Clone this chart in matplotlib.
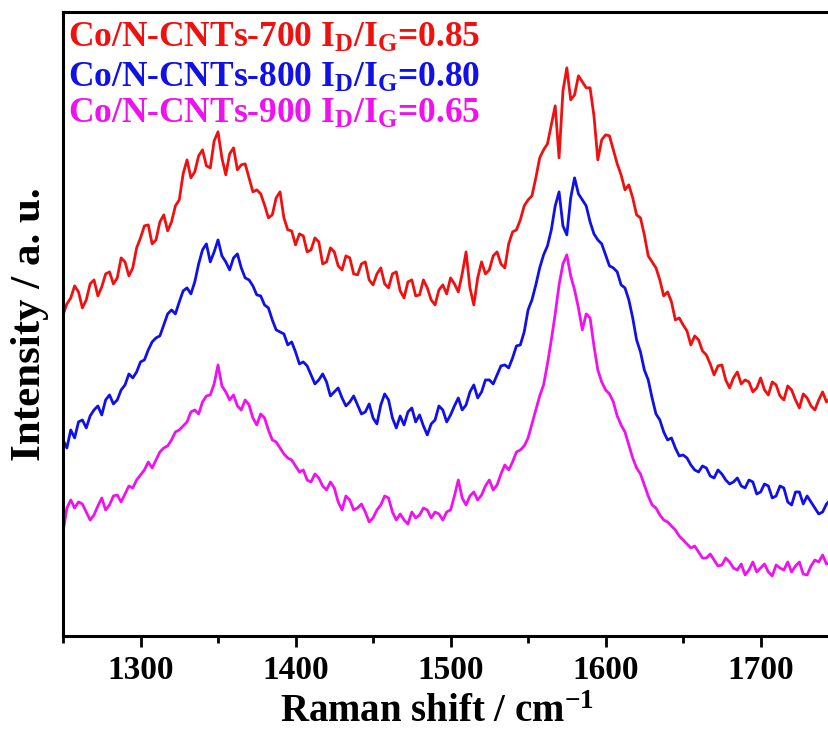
import matplotlib.pyplot as plt
from matplotlib.ticker import MultipleLocator

plt.rcParams['font.family'] = ['Liberation Serif', 'DejaVu Serif']
plt.rcParams['font.weight'] = 'bold'
plt.rcParams['mathtext.fontset'] = 'custom'
plt.rcParams['mathtext.rm'] = 'Liberation Serif:bold'
plt.rcParams['mathtext.it'] = 'Liberation Serif:bold'
plt.rcParams['mathtext.bf'] = 'Liberation Serif:bold'

# Intensities (a. u.) every 2.5 cm-1, curves already offset
co700 = [321, 332, 338, 350, 344, 328, 336, 352, 356, 340, 349, 362, 364, 352, 358, 378, 374, 360, 368, 388,
         398, 410, 411, 392, 396, 414, 421, 405, 414, 430, 436, 462, 476, 458, 464, 480, 486, 470, 468, 495,
         504, 478, 461, 482, 488, 466, 471, 472, 458, 444, 446, 442, 431, 418, 421, 438, 444, 418, 406, 405,
         391, 402, 400, 384, 386, 398, 394, 372, 374, 388, 384, 370, 366, 380, 378, 362, 361, 372, 374, 356,
         351, 362, 368, 352, 348, 362, 364, 345, 338, 354, 356, 340, 341, 356, 348, 336, 331, 346, 351, 342,
         358, 352, 344, 362, 384, 348, 331, 358, 374, 362, 366, 380, 384, 372, 368, 392, 404, 406, 416, 430,
         436, 440, 458, 478, 486, 492, 511, 530, 478, 545, 568, 536, 541, 560, 554, 548, 548, 520, 476, 496,
         501, 500, 486, 472, 461, 446, 451, 438, 421, 418, 401, 380, 374, 368, 356, 340, 344, 334, 316, 318,
         311, 305, 291, 300, 296, 285, 281, 272, 261, 270, 271, 256, 248, 258, 264, 252, 256, 254, 244, 248,
         258, 246, 241, 254, 251, 240, 236, 250, 246, 236, 228, 242, 238, 230, 226, 236, 244, 234, 238, 242]

co800 = [196, 188, 206, 198, 214, 216, 208, 220, 226, 230, 221, 236, 241, 232, 236, 246, 251, 262, 258, 264,
         274, 276, 286, 294, 298, 300, 311, 322, 326, 322, 334, 345, 348, 342, 354, 372, 386, 392, 374, 384,
         396, 380, 374, 366, 378, 382, 368, 358, 356, 350, 341, 340, 331, 328, 316, 306, 304, 302, 291, 294,
         284, 272, 274, 270, 261, 252, 256, 262, 254, 240, 244, 248, 238, 230, 234, 240, 231, 222, 224, 232,
         218, 212, 231, 242, 236, 218, 208, 220, 211, 224, 228, 214, 221, 210, 201, 212, 216, 230, 226, 214,
         221, 230, 238, 226, 231, 244, 251, 238, 244, 256, 256, 252, 261, 270, 271, 268, 278, 290, 291, 304,
         326, 336, 351, 368, 381, 390, 406, 430, 444, 410, 401, 438, 458, 442, 436, 430, 414, 402, 396, 392,
         381, 370, 368, 364, 351, 348, 336, 318, 296, 284, 266, 256, 238, 222, 216, 204, 196, 198, 188, 180,
         181, 178, 171, 166, 164, 170, 168, 160, 158, 166, 162, 156, 152, 154, 158, 150, 148, 156, 154, 142,
         144, 152, 150, 138, 140, 150, 148, 134, 131, 144, 144, 132, 140, 134, 128, 122, 124, 132, 136, 128]

co900 = [104, 128, 136, 128, 134, 132, 124, 116, 121, 130, 138, 126, 131, 140, 141, 134, 142, 150, 148, 156,
         161, 166, 174, 168, 176, 184, 188, 190, 196, 204, 206, 210, 214, 224, 226, 222, 234, 240, 241, 252,
         271, 250, 244, 236, 241, 230, 226, 236, 231, 218, 211, 222, 218, 206, 196, 194, 188, 182, 178, 176,
         170, 164, 166, 156, 154, 162, 158, 150, 146, 154, 148, 134, 126, 140, 136, 126, 128, 132, 124, 114,
         118, 126, 131, 140, 138, 124, 116, 122, 116, 112, 124, 118, 121, 128, 126, 118, 124, 122, 116, 124,
         126, 140, 156, 138, 131, 140, 144, 136, 141, 150, 156, 146, 151, 162, 171, 166, 174, 184, 186, 190,
         198, 212, 226, 240, 251, 272, 296, 322, 351, 372, 381, 360, 346, 328, 306, 322, 318, 290, 266, 254,
         246, 242, 234, 220, 211, 204, 191, 178, 168, 162, 151, 140, 131, 128, 121, 116, 114, 110, 106, 100,
         96, 92, 88, 90, 84, 78, 78, 82, 76, 70, 71, 78, 74, 68, 66, 72, 61, 66, 74, 64,
         68, 72, 64, 60, 71, 68, 66, 74, 64, 70, 74, 62, 61, 70, 76, 74, 81, 72, 74, 70]

# Raman shift axis, 1250 to 1747.5 cm-1
shift = [1250 + 2.5 * i for i in range(len(co700))]

labels = ['Co/N-CNTs-700', 'Co/N-CNTs-800', 'Co/N-CNTs-900']
ratios = ['0.85', '0.80', '0.65']
colors = ['#f01010', '#1010e8', '#f010f0']

fig = plt.figure(figsize=(8.29, 7.37), dpi=100)
ax = fig.add_axes([0.076, 0.137, 0.935, 0.847])

for series, c in zip([co700, co800, co900], colors):
    ax.plot(shift, series, color=c, lw=2.0)

ax.set_xlim(1250, 1750)
ax.set_ylim(0, 624)
ax.xaxis.set_major_locator(MultipleLocator(100))
ax.xaxis.set_minor_locator(MultipleLocator(50))
ax.set_yticks([])
ax.tick_params(axis='x', which='major', direction='out', length=8, width=2, labelsize=24, pad=6)
ax.tick_params(axis='x', which='minor', direction='out', length=5, width=2)
for s in ax.spines.values():
    s.set_linewidth(2.2)

ax.set_xlabel(r'Raman shift / cm$^\mathrm{-1}$', fontsize=28, fontweight='bold')
ax.xaxis.set_label_coords(0.483, -0.093)
ax.set_ylabel('Intensity / a. u.', fontsize=31, fontweight='bold', labelpad=10)

# sample names with I_D/I_G ratios, top left
ypos = [0.944, 0.880, 0.822]
for lab, r, c, y in zip(labels, ratios, colors, ypos):
    ax.text(0.006, y, lab + r' I$_\mathrm{D}$/I$_\mathrm{G}$=' + r, color=c,
            fontsize=25.5, va='baseline', ha='left', transform=ax.transAxes)

fig.savefig('out.png', dpi=100)
